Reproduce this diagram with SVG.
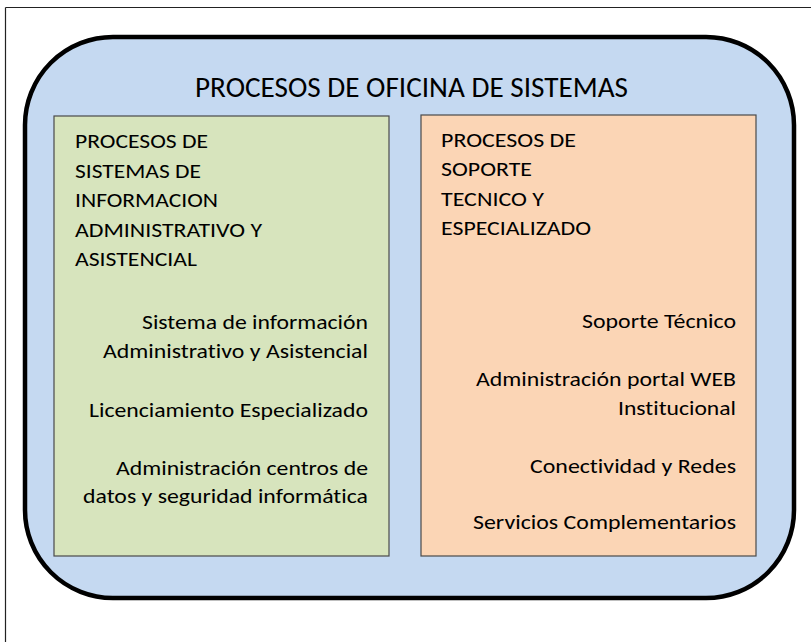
<svg xmlns="http://www.w3.org/2000/svg" width="811" height="642" viewBox="0 0 811 642">
<style>
  .t { font-family: Carlito, Calibri, "Liberation Sans", Arial, sans-serif; fill: #000; font-variant-ligatures: none; }
  .h { font-size: 20px; }
  .i { font-size: 20px; }
  .title { font-size: 29px; }
  .box { stroke: #4a4a4a; stroke-width: 1.2; }
</style>
<g id="frame">
  <line x1="5.5" y1="7.5" x2="811" y2="7.5" stroke="#222" stroke-width="1.2"/>
  <line x1="5.5" y1="7.5" x2="5.5" y2="642" stroke="#222" stroke-width="1.2"/>
</g>
<g id="outer">
  <rect x="25" y="37" width="769" height="561" rx="88" ry="88" fill="#C5D9F1" stroke="#000" stroke-width="4.5"/>
  <text class="t title" x="195" y="97" textLength="433" lengthAdjust="spacingAndGlyphs">PROCESOS DE OFICINA DE SISTEMAS</text>
</g>
<g id="green">
  <rect class="box" x="54" y="116" width="335" height="440" fill="#D7E4BD"/>
  <text class="t h" x="75" y="148" textLength="133" lengthAdjust="spacingAndGlyphs">PROCESOS DE</text>
  <text class="t h" x="75" y="178" textLength="126" lengthAdjust="spacingAndGlyphs">SISTEMAS DE</text>
  <text class="t h" x="75" y="207" textLength="143" lengthAdjust="spacingAndGlyphs">INFORMACION</text>
  <text class="t h" x="75" y="237" textLength="187" lengthAdjust="spacingAndGlyphs">ADMINISTRATIVO Y</text>
  <text class="t h" x="75" y="266" textLength="122" lengthAdjust="spacingAndGlyphs">ASISTENCIAL</text>
  <text class="t i" x="142" y="329" textLength="226" lengthAdjust="spacingAndGlyphs">Sistema de información</text>
  <text class="t i" x="103" y="358" textLength="265" lengthAdjust="spacingAndGlyphs">Administrativo y Asistencial</text>
  <text class="t i" x="89" y="417" textLength="279" lengthAdjust="spacingAndGlyphs">Licenciamiento Especializado</text>
  <text class="t i" x="116" y="475" textLength="252" lengthAdjust="spacingAndGlyphs">Administración centros de</text>
  <text class="t i" x="83" y="503" textLength="285" lengthAdjust="spacingAndGlyphs">datos y seguridad informática</text>
</g>
<g id="orange">
  <rect class="box" x="421" y="115" width="335" height="441" fill="#FBD5B5"/>
  <text class="t h" x="441" y="147" textLength="135" lengthAdjust="spacingAndGlyphs">PROCESOS DE</text>
  <text class="t h" x="441" y="176" textLength="91" lengthAdjust="spacingAndGlyphs">SOPORTE</text>
  <text class="t h" x="441" y="206" textLength="103" lengthAdjust="spacingAndGlyphs">TECNICO Y</text>
  <text class="t h" x="441" y="235" textLength="150" lengthAdjust="spacingAndGlyphs">ESPECIALIZADO</text>
  <text class="t i" x="582" y="328" textLength="154" lengthAdjust="spacingAndGlyphs">Soporte Técnico</text>
  <text class="t i" x="476" y="386" textLength="260" lengthAdjust="spacingAndGlyphs">Administración portal WEB</text>
  <text class="t i" x="618" y="415" textLength="118" lengthAdjust="spacingAndGlyphs">Institucional</text>
  <text class="t i" x="530" y="473" textLength="206" lengthAdjust="spacingAndGlyphs">Conectividad y Redes</text>
  <text class="t i" x="473" y="529" textLength="263" lengthAdjust="spacingAndGlyphs">Servicios Complementarios</text>
</g>
<g id="connectors"></g>
</svg>
